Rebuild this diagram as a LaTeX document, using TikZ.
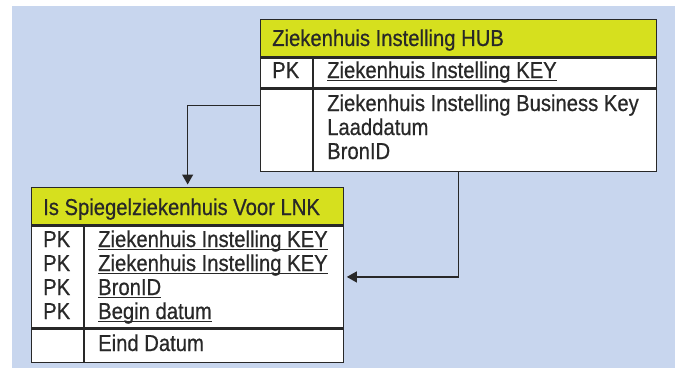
\documentclass[tikz,border=0pt]{standalone}
\usepackage{fontspec}
\setmainfont[FakeStretch=0.88,FakeBold=0.6]{Liberation Sans}
\usetikzlibrary{arrows.meta,positioning,calc}

\definecolor{panelblue}{RGB}{200,214,238}
\definecolor{headyellow}{RGB}{214,224,30}
\definecolor{inkgray}{RGB}{40,40,40}

% underlined primary key field
\newsavebox\fieldbox
\newcommand{\keyfield}[1]{\sbox\fieldbox{#1}\rlap{\rule[-2.6pt]{\wd\fieldbox}{0.9pt}}\usebox\fieldbox}

\tikzset{
  tbl/.style={draw=inkgray,line width=1.3pt,fill=white,inner sep=0pt,anchor=north west},
  tblhead/.style={tbl,fill=headyellow},
  fld/.style={anchor=base west,inner sep=0pt,text=inkgray,font=\fontsize{23}{26}\selectfont},
  colsep/.style={draw=inkgray,line width=1.3pt},
  link/.style={draw=inkgray,line width=1.1pt,shorten >=2.5pt,-{Triangle[length=10pt,width=11pt]}}
}

\begin{document}
\begin{tikzpicture}[x=1pt,y=-1pt]
\useasboundingbox (0,0) rectangle (675,369);
\fill[panelblue] (12,6) rectangle (675,368);

% hub table
\node[tblhead,minimum width=396pt,minimum height=37pt] (hubhead) at (260,19) {};
\node[tbl,minimum width=396pt,minimum height=30pt,below=0pt of hubhead] (hubkeys) {};
\node[tbl,minimum width=396pt,minimum height=82pt,below=0pt of hubkeys] (hubattr) {};
\draw[colsep] ($(hubkeys.north west)+(53,0)$) -- ($(hubattr.south west)+(53,0)$);

\node[fld] (hubtitle) at (272,46) {Ziekenhuis Instelling HUB};
\node[fld] (hubpk) at (272,78) {PK};
\node[fld] (hubkey) at (327,78) {\keyfield{Ziekenhuis Instelling KEY}};
\node[fld] (hbk) at (327,111) {Ziekenhuis Instelling Business Key};
\node[fld] (hld) at (327,135) {Laaddatum};
\node[fld] (hbron) at (327,159) {BronID};

% link table
\node[tblhead,minimum width=312pt,minimum height=37pt] (lnkhead) at (31,187) {};
\node[tbl,minimum width=312pt,minimum height=102pt,below=0pt of lnkhead] (lnkkeys) {};
\node[tbl,minimum width=312pt,minimum height=33pt,below=0pt of lnkkeys] (lnkattr) {};
\draw[colsep] ($(lnkkeys.north west)+(53,0)$) -- ($(lnkattr.south west)+(53,0)$);

\node[fld] (lnktitle) at (43,215) {Is Spiegelziekenhuis Voor LNK};
\foreach \y/\name/\txt in {247/lk1/Ziekenhuis Instelling KEY,271/lk2/Ziekenhuis Instelling KEY,295/lk3/BronID,319/lk4/Begin datum}{
  \node[fld] (\name pk) at (43,\y) {PK};
  \node[fld] (\name) at (98,\y) {\keyfield{\txt}};
}
\node[fld] (leind) at (98,351) {Eind Datum};

% relations
\draw[link] (hubattr.west |- hbk) -| (lnkhead.north);
\draw[link] (hubattr.south) |- (lnkkeys.east);
\end{tikzpicture}
\end{document}
